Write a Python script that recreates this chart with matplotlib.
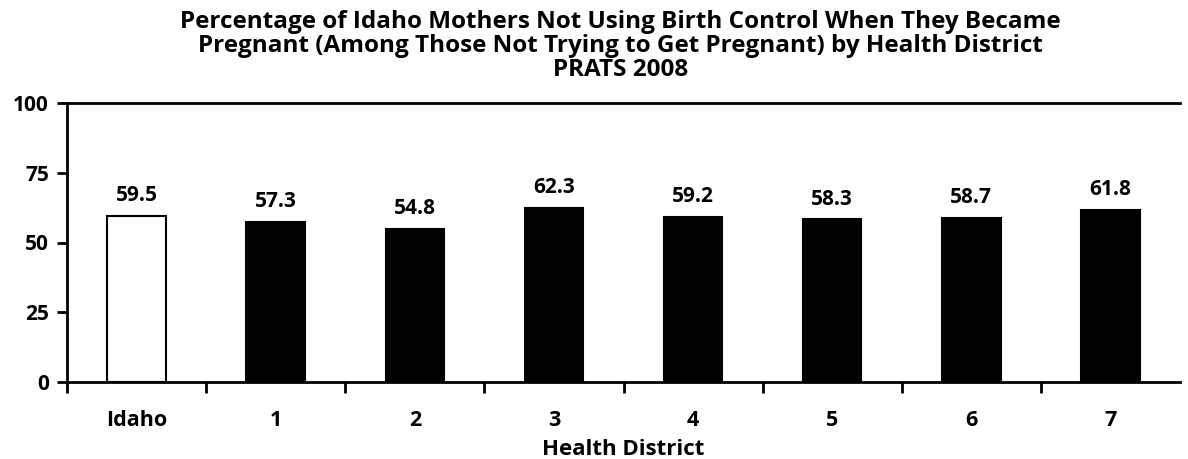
import matplotlib.pyplot as plt

categories = ["Idaho", "1", "2", "3", "4", "5", "6", "7"]
values = [59.5, 57.3, 54.8, 62.3, 59.2, 58.3, 58.7, 61.8]
fills = ["white", "black", "black", "black", "black", "black", "black", "black"]

plt.rcParams['font.family'] = ['Open Sans', 'DejaVu Sans']

fig = plt.figure(figsize=(11.88, 4.59), dpi=100)
ax = fig.add_axes([67 / 1188, 1 - 382 / 459, (1180 - 67) / 1188, (382 - 103) / 459])

x = range(len(categories))
ax.bar(x, values, width=0.42, color=fills, edgecolor="black", linewidth=1.5)
for i, v in enumerate(values):
    ax.text(i, v + 3.5, f"{v:.1f}", ha="center", va="bottom", fontsize=15, fontweight="bold")

ax.set_xlim(-0.5, len(categories) - 0.5)
ax.set_ylim(0, 100)
ax.set_yticks([0, 25, 50, 75, 100])
ax.set_xticks([i + 0.5 for i in range(-1, len(categories) - 1)], minor=False)
ax.set_xticklabels([])
ax.set_xticks(list(x), minor=True)
ax.set_xticklabels(categories, minor=True)
ax.tick_params(axis="x", which="major", length=8, width=2, direction="out")
ax.tick_params(axis="x", which="minor", length=0, pad=20, labelsize=15.5)
for lbl in ax.get_xticklabels(minor=True):
    lbl.set_fontweight("bold")
ax.tick_params(axis="y", length=7, width=2, labelsize=15, pad=6)
for lbl in ax.get_yticklabels():
    lbl.set_fontweight("bold")

ax.spines["right"].set_visible(False)
for s in ["left", "bottom", "top"]:
    ax.spines[s].set_linewidth(2)

ax.set_xlabel("Health District", fontsize=16, fontweight="bold", labelpad=6)
fig.text(0.522, 0.978,
         "Percentage of Idaho Mothers Not Using Birth Control When They Became\n"
         "Pregnant (Among Those Not Trying to Get Pregnant) by Health District\n"
         "PRATS 2008",
         ha="center", va="top", fontsize=17.5, fontweight="bold", linespacing=1.0)

fig.savefig("out.png", dpi=100)
